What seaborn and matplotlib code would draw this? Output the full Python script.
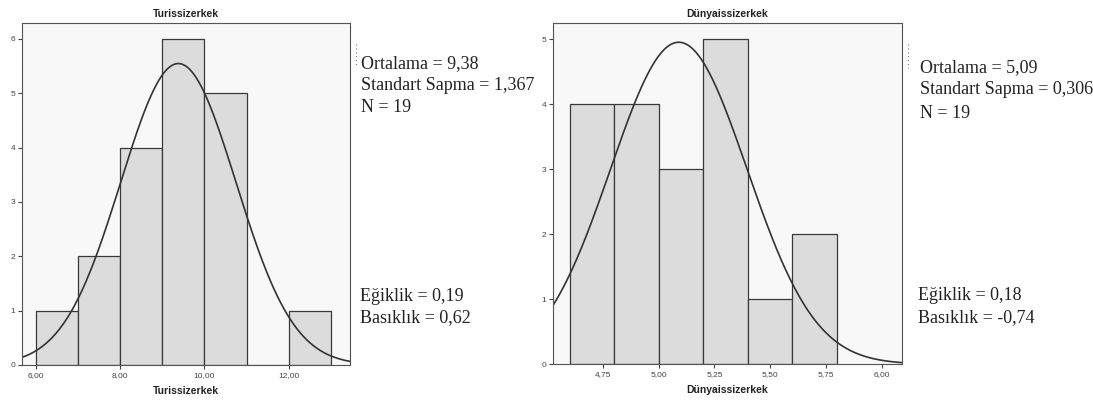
import numpy as np
import pandas as pd
import matplotlib.pyplot as plt
import seaborn as sns
from matplotlib.lines import Line2D

# Histogram data
turis_edges = [6, 7, 8, 9, 10, 11, 12, 13]
turis_counts = [1, 2, 4, 6, 5, 0, 1]
turis_mean, turis_sd, turis_n = 9.38, 1.367, 19
turis_xticks = [6, 8, 10, 12]

dunya_edges = [4.6, 4.8, 5.0, 5.2, 5.4, 5.6, 5.8]
dunya_counts = [4, 4, 3, 5, 1, 2]
dunya_mean, dunya_sd, dunya_n = 5.09, 0.306, 19
dunya_xticks = [4.75, 5.00, 5.25, 5.50, 5.75, 6.00]

turis_stats = ["Ortalama = 9,38", "Standart Sapma = 1,367", "N = 19"]
turis_shape = ["Eğiklik = 0,19", "Basıklık = 0,62"]
dunya_stats = ["Ortalama = 5,09", "Standart Sapma = 0,306", "N = 19"]
dunya_shape = ["Eğiklik = 0,18", "Basıklık = -0,74"]

sns.set_style("white")
plt.rcParams['font.family'] = ['Liberation Sans', 'DejaVu Sans']

fig = plt.figure(figsize=(10.93, 4.11), dpi=100)
ax1 = fig.add_axes([0.0201, 0.112, 0.300, 0.832])
ax2 = fig.add_axes([0.506, 0.114, 0.319, 0.830])


def draw_hist(ax, edges, counts, mean, sd, n, xlim, ylim, xticks, yticks, name):
    e = np.array(edges)
    centers = (e[:-1] + e[1:]) / 2
    df = pd.DataFrame({'x': centers, 'w': counts})
    sns.histplot(data=df, x='x', weights='w', bins=list(edges), ax=ax,
                 color='#dcdcdc', edgecolor='#3a3a3a', linewidth=0.9, alpha=1)
    # fitted normal curve
    width = e[1] - e[0]
    xs = np.linspace(xlim[0], xlim[1], 300)
    ys = n * width / (sd * np.sqrt(2 * np.pi)) * np.exp(-0.5 * ((xs - mean) / sd) ** 2)
    sns.lineplot(x=xs, y=ys, ax=ax, color='#333333', linewidth=1.2)
    ax.set_xlim(*xlim)
    ax.set_ylim(*ylim)
    ax.set_facecolor('#f8f8f8')
    ax.set_xticks(xticks)
    ax.set_xticklabels([f"{t:.2f}".replace('.', ',') for t in xticks])
    ax.set_yticks(yticks)
    ax.tick_params(axis='both', labelsize=6, length=3, width=0.8,
                   colors='#444444', direction='out', pad=2,
                   bottom=True, left=True)
    for sp in ax.spines.values():
        sp.set_color('#555555')
        sp.set_linewidth(0.8)
        sp.set_linestyle((0, (1, 0.6)))
    ax.set_title(name, fontsize=7.5, fontweight='bold', pad=4, color='#222222')
    ax.set_xlabel(name, fontsize=7.5, fontweight='bold', labelpad=5, color='#222222')
    ax.set_ylabel('')


draw_hist(ax1, turis_edges, turis_counts, turis_mean, turis_sd, turis_n,
          (5.67, 13.45), (0, 6.29), turis_xticks, range(0, 7), 'Turissizerkek')
draw_hist(ax2, dunya_edges, dunya_counts, dunya_mean, dunya_sd, dunya_n,
          (4.526, 6.09), (0, 5.25), dunya_xticks, range(0, 6), 'Dünyaissizerkek')

serif = ['Liberation Serif', 'DejaVu Serif']


def put_text(x, ys, lines):
    for y, s in zip(ys, lines):
        fig.text(x / 1093, 1 - y / 411, s, fontsize=13, family=serif,
                 color='#222222', va='center', ha='left')


put_text(361, [64, 86, 108], turis_stats)
put_text(920, [68, 90, 113], dunya_stats)
put_text(360, [296, 318], turis_shape)
put_text(918, [295, 318], dunya_shape)

# small dotted legend remnants next to each frame
for px, y0, y1 in [(356, 44, 66), (908, 44, 68)]:
    fig.add_artist(Line2D([px / 1093, px / 1093], [1 - y0 / 411, 1 - y1 / 411],
                          transform=fig.transFigure, color='#777777',
                          linewidth=0.8, linestyle=(0, (1, 2.5))))

fig.savefig('out.png', dpi=100)
